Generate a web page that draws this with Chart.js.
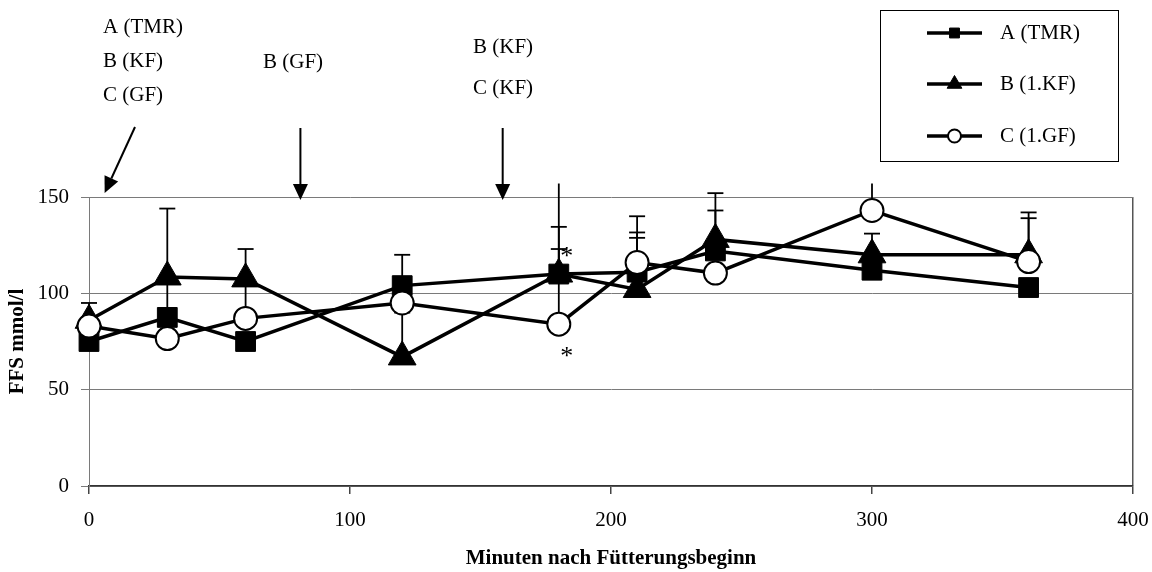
<!DOCTYPE html>
<html><head><meta charset="utf-8">
<script src="https://cdn.jsdelivr.net/npm/chart.js@4/dist/chart.umd.min.js"></script>
<style>html,body{margin:0;padding:0;background:#fff}canvas{display:block}</style>
</head><body>
<canvas id="c" width="1152" height="572"></canvas>
<script>
// ---- data ----
const minutes = [0, 30, 60, 120, 180, 210, 240, 300, 360];
const seriesA = [75, 87.5, 75, 104, 110, 111, 122, 112, 103];
const seriesB = [86, 108.5, 107.5, 67, 110, 102, 128, 120, 120];
const seriesC = [83, 76.5, 87, 95, 84, 116, 110.5, 143, 116.5];
const errTopA = [null, 106, null, 120, 123, 131.6, 143, null, null];
const errTopB = [95, 144, 123, 90, 134.5, 128.8, 152, 131, 142];
const errTopC = [null, null, 105, null, 165, 140, null, 165, 139];
const legendLabels = ['A (TMR)', 'B (1.KF)', 'C (1.GF)'];
const xTickValues = [0, 100, 200, 300, 400];
const yTickValues = [0, 50, 100, 150];
const noteTimes = [6, 81, 158.5];
const noteTexts = [['A (TMR)', 'B (KF)', 'C (GF)'], ['B (GF)'], ['B (KF)', 'C (KF)']];
const starPoints = [{x: 180, y: 121}, {x: 180, y: 69}];
const xTitle = 'Minuten nach Fütterungsbeginn';
const yTitle = 'FFS mmol/l';

const FONT = "'Liberation Serif','Times New Roman',serif";
const styles = [
  {pointStyle: 'rect', radius: 14, fill: '#000', bw: 1, lr: 7},
  {pointStyle: 'triangle', radius: 16, fill: '#000', bw: 1, lr: 8.5},
  {pointStyle: 'circle', radius: 11.5, fill: '#fff', bw: 2, lr: 6.5}
];
const allSeries = [seriesA, seriesB, seriesC];
const allErr = [errTopA, errTopB, errTopC];
const drawOrder = [1, 2, 0];

const datasets = allSeries.map((s, i) => ({
  label: legendLabels[i],
  data: minutes.map((m, j) => ({x: m, y: s[j]})),
  borderColor: '#000',
  backgroundColor: styles[i].fill,
  borderWidth: 3.5,
  pointStyle: styles[i].pointStyle,
  pointRadius: styles[i].radius,
  pointHoverRadius: styles[i].radius,
  pointBackgroundColor: styles[i].fill,
  pointBorderColor: '#000',
  pointBorderWidth: styles[i].bw,
  tension: 0,
  clip: false,
  order: drawOrder[i]
}));

function marker(ctx, style, r, x, y, fill, bw) {
  ctx.save();
  ctx.beginPath();
  if (style === 'rect') {
    const s = Math.SQRT1_2 * r;
    ctx.rect(x - s, y - s, 2 * s, 2 * s);
  } else if (style === 'triangle') {
    ctx.moveTo(x, y - r);
    ctx.lineTo(x + 0.866 * r, y + 0.5 * r);
    ctx.lineTo(x - 0.866 * r, y + 0.5 * r);
    ctx.closePath();
  } else {
    ctx.arc(x, y, r, 0, Math.PI * 2);
  }
  ctx.fillStyle = fill; ctx.fill();
  ctx.lineWidth = bw; ctx.strokeStyle = '#000'; ctx.stroke();
  ctx.restore();
}

const errorBars = {
  id: 'errorBars',
  beforeDatasetsDraw(chart) {
    const {ctx, scales: {x, y}} = chart;
    const clipVal = 157;
    ctx.save();
    ctx.strokeStyle = '#000';
    ctx.lineWidth = 1.8;
    allErr.forEach((errs, i) => {
      errs.forEach((top, j) => {
        if (top == null) return;
        const px = x.getPixelForValue(minutes[j]);
        const p0 = y.getPixelForValue(allSeries[i][j]);
        const capped = top <= clipVal;
        const p1 = y.getPixelForValue(Math.min(top, clipVal));
        ctx.beginPath(); ctx.moveTo(px, p0); ctx.lineTo(px, p1); ctx.stroke();
        if (capped) { ctx.beginPath(); ctx.moveTo(px - 8, p1); ctx.lineTo(px + 8, p1); ctx.stroke(); }
      });
    });
    ctx.restore();
  }
};

function arrow(ctx, x0, y0, x1, y1) {
  const ang = Math.atan2(y1 - y0, x1 - x0);
  const L = 16, W = 7.5;
  const bx = x1 - Math.cos(ang) * L, by = y1 - Math.sin(ang) * L;
  ctx.beginPath(); ctx.moveTo(x0, y0); ctx.lineTo(bx, by); ctx.stroke();
  ctx.beginPath();
  ctx.moveTo(x1, y1);
  ctx.lineTo(bx + Math.sin(ang) * W, by - Math.cos(ang) * W);
  ctx.lineTo(bx - Math.sin(ang) * W, by + Math.cos(ang) * W);
  ctx.closePath(); ctx.fill();
}

const extras = {
  id: 'extras',
  afterDraw(chart) {
    const {ctx, scales: {x, y}} = chart;
    ctx.save();
    ctx.fillStyle = '#000'; ctx.strokeStyle = '#000';
    ctx.font = '21px ' + FONT;
    ctx.textAlign = 'left'; ctx.textBaseline = 'middle';
    const noteLayout = [
      {tx: 103, ys: [27, 61, 95]},
      {tx: 263, ys: [62]},
      {tx: 473, ys: [47, 88]}
    ];
    noteTexts.forEach((lines, k) => {
      lines.forEach((t, li) => ctx.fillText(t, noteLayout[k].tx, noteLayout[k].ys[li]));
    });
    ctx.lineWidth = 2;
    const tipY0 = y.getPixelForValue(150);
    arrow(ctx, 135, 127, x.getPixelForValue(noteTimes[0]), tipY0 - 4);
    const ax1 = x.getPixelForValue(noteTimes[1]);
    arrow(ctx, ax1, 128, ax1, tipY0 + 3);
    const ax2 = x.getPixelForValue(noteTimes[2]);
    arrow(ctx, ax2, 128, ax2, tipY0 + 3);
    ctx.font = '26px ' + FONT;
    ctx.textAlign = 'center'; ctx.textBaseline = 'alphabetic';
    starPoints.forEach(p => ctx.fillText('*', x.getPixelForValue(p.x) + 8, y.getPixelForValue(p.y) + 11));
    ctx.lineWidth = 1; ctx.strokeStyle = '#000';
    ctx.strokeRect(880.5, 10.5, 238, 151);
    ctx.font = '21px ' + FONT; ctx.textAlign = 'left'; ctx.textBaseline = 'middle';
    const ly = [33, 84, 136];
    legendLabels.forEach((lab, i) => {
      ctx.lineWidth = 3.5;
      ctx.beginPath(); ctx.moveTo(927, ly[i]); ctx.lineTo(982, ly[i]); ctx.stroke();
      marker(ctx, styles[i].pointStyle, styles[i].lr, 954.5, ly[i], styles[i].fill, styles[i].bw);
      ctx.fillStyle = '#000';
      ctx.fillText(lab, 1000, ly[i]);
    });
    ctx.restore();
  }
};

new Chart(document.getElementById('c'), {
  type: 'line',
  data: {datasets},
  options: {
    responsive: false,
    animation: false,
    devicePixelRatio: 1,
    layout: {padding: {top: 197, right: 19, left: 0, bottom: 0}},
    plugins: {legend: {display: false}, tooltip: {enabled: false}},
    scales: {
      x: {
        type: 'linear', min: 0, max: 400,
        afterBuildTicks: s => { s.ticks = xTickValues.map(v => ({value: v})); },
        afterFit: s => { s.height = 86; s.paddingRight = 0; s.paddingLeft = 0; },
        ticks: {font: {family: FONT, size: 21}, color: '#000', padding: 14, maxRotation: 0},
        grid: {
          drawOnChartArea: true,
          color: c => (c.tick && c.tick.value === 400) ? '#555' : 'rgba(0,0,0,0)',
          lineWidth: 1.5,
          tickColor: '#444', tickLength: 8
        },
        border: {color: '#333', width: 1.5},
        title: {display: true, text: xTitle, font: {family: FONT, size: 21, weight: 'bold'}, color: '#000', padding: {top: 0, bottom: 1}}
      },
      y: {
        min: 0, max: 150,
        afterBuildTicks: s => { s.ticks = yTickValues.map(v => ({value: v})); },
        afterFit: s => { s.width = 89; s.paddingTop = 0; s.paddingBottom = 0; },
        ticks: {font: {family: FONT, size: 21}, color: '#000', padding: 12},
        grid: {color: '#7a7a7a', lineWidth: 1, tickColor: '#7a7a7a', tickLength: 8},
        border: {color: '#7a7a7a', width: 1},
        title: {display: true, text: yTitle, font: {family: FONT, size: 21, weight: 'bold'}, color: '#000', padding: {top: 5, bottom: 0}}
      }
    }
  },
  plugins: [errorBars, extras]
});
</script>
</body></html>
